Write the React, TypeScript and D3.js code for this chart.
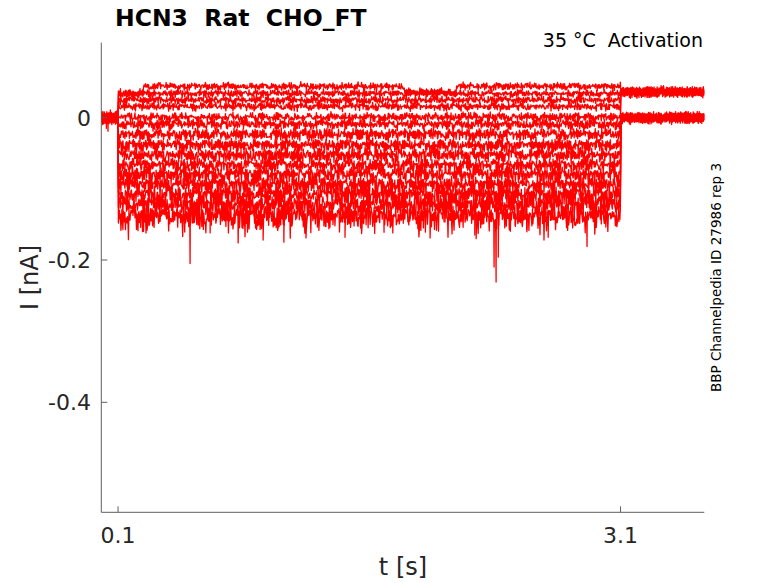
import * as d3 from 'd3'

// Sweep protocol timing (s)
const T_STEP_ON = 0.1
const T_STEP_OFF = 3.1
const T_MAX = 3.6
const DT = 0.003

// Steady level of every sweep during the voltage step (nA)
const STEP_LEVELS = [0.043, 0.034, 0.025, 0.016, 0.001, -0.009, -0.023, -0.038, -0.052, -0.066, -0.079, -0.093, -0.107, -0.121, -0.136]
// Noise envelope above / below each sweep (nA)
const NOISE_UP = [0.006, 0.006, 0.006, 0.006, 0.007, 0.008, 0.009, 0.009, 0.01, 0.01, 0.011, 0.011, 0.012, 0.013, 0.013]
const NOISE_DOWN = [0.006, 0.006, 0.007, 0.007, 0.008, 0.009, 0.011, 0.012, 0.013, 0.014, 0.016, 0.018, 0.02, 0.023, 0.03]
// Level before the step and in the tail (nA)
const PRE_LEVELS = [0, 0, 0, 0, 0, 0, 0, 0, 0, 0, 0, 0, 0, 0, 0]
const TAIL_LEVELS = [0.036, 0.036, 0.036, 0.036, 0.036, 0.036, 0, 0, 0, 0, 0, 0, 0, 0, 0]
const PRE_NOISE = 0.009
const TAIL_NOISE = 0.008

// the top sweep changes level a few times during the step: [from t, level]
const TOP_SWEEP_STEPS: [number, number][] = [[0.1, 0.034], [0.25, 0.044], [1.81, 0.036], [2.12, 0.044]]

// sharp downward spikes: [sweep, t, nA]
const SPIKES: [number, number, number][] = [
  [14, 0.235, -0.154], [14, 0.53, -0.205], [13, 0.65, -0.162], [14, 0.817, -0.176],
  [14, 0.966, -0.172], [13, 1.09, -0.175], [14, 1.222, -0.169], [14, 1.455, -0.168],
  [13, 1.688, -0.161], [14, 1.74, -0.162], [14, 1.963, -0.169], [13, 2.23, -0.165],
  [14, 2.345, -0.21], [14, 2.357, -0.231], [13, 2.37, -0.196], [14, 2.47, -0.151],
  [13, 2.54, -0.157], [14, 2.668, -0.168], [14, 2.9, -0.181],
]
const PRE_SPIKES: [number, number, number][] = [[7, 0.04, -0.019], [9, 0.03, -0.015]]

// hand-typed noise shape table (unitless, -1..1)
const NOISE_SEQ = [
  0.12, -0.45, 0.63, -0.08, -0.91, 0.34, 0.78, -0.27, -0.55, 0.05,
  0.41, -0.73, 0.19, 0.87, -0.36, -0.02, 0.58, -0.64, 0.27, -1.0,
  0.46, 0.09, -0.22, 0.71, -0.49, 0.33, -0.81, 0.15, 0.92, -0.13,
  -0.39, 0.52, -0.67, 0.24, 0.03, -0.58, 0.81, -0.31, 0.44, -0.86,
  0.07, 0.66, -0.18, -0.72, 0.38, 0.95, -0.42, 0.11, -0.6, 0.29,
  -0.05, 0.74, -0.94, 0.21, 0.49, -0.33, -0.77, 0.6, 0.16, -0.25,
  0.84, -0.52, 0.02, 0.37, -0.69, 0.55, -0.11, -0.84, 0.43, 0.26,
  -0.47, 0.69, -0.2, 0.13, -0.62, 0.89, -0.35, 0.06, -0.79, 0.5,
  0.31, -0.15, 0.76, -0.56, -0.03, 0.4, -0.88, 0.18, 0.62, -0.4,
  0.1, -0.7, 0.54, -0.24, 0.82, -0.5, 0.22, -0.97, 0.35, -0.12, 0.67,
]

const X_TICKS = [0.1, 3.1]
const Y_TICKS = [0, -0.2, -0.4]
const X_DOMAIN: [number, number] = [0, T_MAX]
const Y_DOMAIN: [number, number] = [-0.5546, 0.1054]

const TITLE = 'HCN3  Rat  CHO_FT'
const CONDITION = '35 °C  Activation'
const SOURCE = 'BBP Channelpedia ID 27986 rep 3'

const W = 778
const H = 583
const M = { left: 101.3, right: 704.3, top: 42.7, bottom: 512.3 }
const FONT = '"DejaVu Sans", sans-serif'
const TEXT = '#262626'
const AXIS = '#5e5e5e'

function noiseAt(k: number, i: number) {
  const n = NOISE_SEQ.length
  const a = NOISE_SEQ[(k + i * 37) % n]
  // second reading of the table at an uneven pace so the two do not beat
  const b = NOISE_SEQ[(Math.floor(k * 1.7) + i * 11 + 50) % (n - 4)]
  // slow wander: table read at a coarser pace, blended between entries
  const p = k / 9 + i * 19
  const j = Math.floor(p)
  const f = p - j
  const slow = NOISE_SEQ[j % (n - 2)] * (1 - f) + NOISE_SEQ[(j + 1) % (n - 2)] * f
  const v = 0.55 * a + 0.55 * b + 0.35 * slow
  return Math.max(-1.2, Math.min(1.2, v))
}

function stepLevel(i: number, t: number) {
  if (i !== 0) return STEP_LEVELS[i]
  let lv = STEP_LEVELS[0]
  TOP_SWEEP_STEPS.forEach(([t0, v]) => { if (t >= t0) lv = v })
  return lv
}

function buildSweep(i: number): [number, number][] {
  const pts: [number, number][] = []
  const nSteps = Math.round(T_MAX / DT)
  for (let k = 0; k <= nSteps; k++) {
    const t = k * DT
    const n = noiseAt(k, i)
    let v: number
    if (t < T_STEP_ON) v = PRE_LEVELS[i] + n * PRE_NOISE
    else if (t < T_STEP_OFF) v = stepLevel(i, t) + (n >= 0 ? n * NOISE_UP[i] : n * NOISE_DOWN[i])
    else v = TAIL_LEVELS[i] + n * TAIL_NOISE
    pts.push([t, v])
  }
  SPIKES.concat(PRE_SPIKES).forEach(([s, t, v]) => { if (s === i) pts.push([t, v]) })
  pts.sort((a, b) => a[0] - b[0])
  return pts
}

export default function App() {
  const x = d3.scaleLinear().domain(X_DOMAIN).range([M.left, M.right])
  const y = d3.scaleLinear().domain(Y_DOMAIN).range([M.bottom, M.top])
  const line = d3.line<[number, number]>().x((d) => x(d[0])).y((d) => y(d[1]))
  const sweeps = STEP_LEVELS.map((_, i) => buildSweep(i))
  const midY = (M.top + M.bottom) / 2
  const pre = { whiteSpace: 'pre' as const }

  return (
    <svg width={W} height={H} style={{ position: 'absolute', left: 0, top: 0, background: '#fff' }} fontFamily={FONT}>
      <defs>
        <clipPath id="plot">
          <rect x={M.left} y={M.top} width={M.right - M.left} height={M.bottom - M.top} />
        </clipPath>
      </defs>

      <g clipPath="url(#plot)">
        {sweeps.map((s, i) => (
          <path key={i} d={line(s) || ''} fill="none" stroke="#ff0000" strokeWidth={1.3} strokeLinejoin="round" />
        ))}
      </g>

      {/* axes: left and bottom only, ticks pointing in */}
      <line x1={M.left} x2={M.left} y1={M.top} y2={M.bottom} stroke={AXIS} strokeWidth={1} />
      <line x1={M.left} x2={M.right} y1={M.bottom} y2={M.bottom} stroke={AXIS} strokeWidth={1} />
      {X_TICKS.map((t) => (
        <g key={t}>
          <line x1={x(t)} x2={x(t)} y1={M.bottom} y2={M.bottom - 6} stroke={AXIS} />
          <text x={x(t)} y={543} textAnchor="middle" fontSize={22} fill={TEXT}>{t}</text>
        </g>
      ))}
      {Y_TICKS.map((v) => (
        <g key={v}>
          <line x1={M.left} x2={M.left + 6} y1={y(v)} y2={y(v)} stroke={AXIS} />
          <text x={91} y={y(v) + 8} textAnchor="end" fontSize={22} fill={TEXT}>{v}</text>
        </g>
      ))}

      <text x={403} y={575} textAnchor="middle" fontSize={24} fill={TEXT}>t [s]</text>
      <text transform={`translate(38,${midY}) rotate(-90)`} textAnchor="middle" fontSize={24} fill={TEXT}>I [nA]</text>

      <text x={115} y={26} fontSize={23.5} fontWeight="bold" fill="#000" style={pre}>{TITLE}</text>
      <text x={703} y={47} textAnchor="end" fontSize={19} fill="#000" style={pre}>{CONDITION}</text>
      <text transform={`translate(721,${midY}) rotate(-90)`} textAnchor="middle" fontSize={13.5} fill="#000">{SOURCE}</text>
    </svg>
  )
}
